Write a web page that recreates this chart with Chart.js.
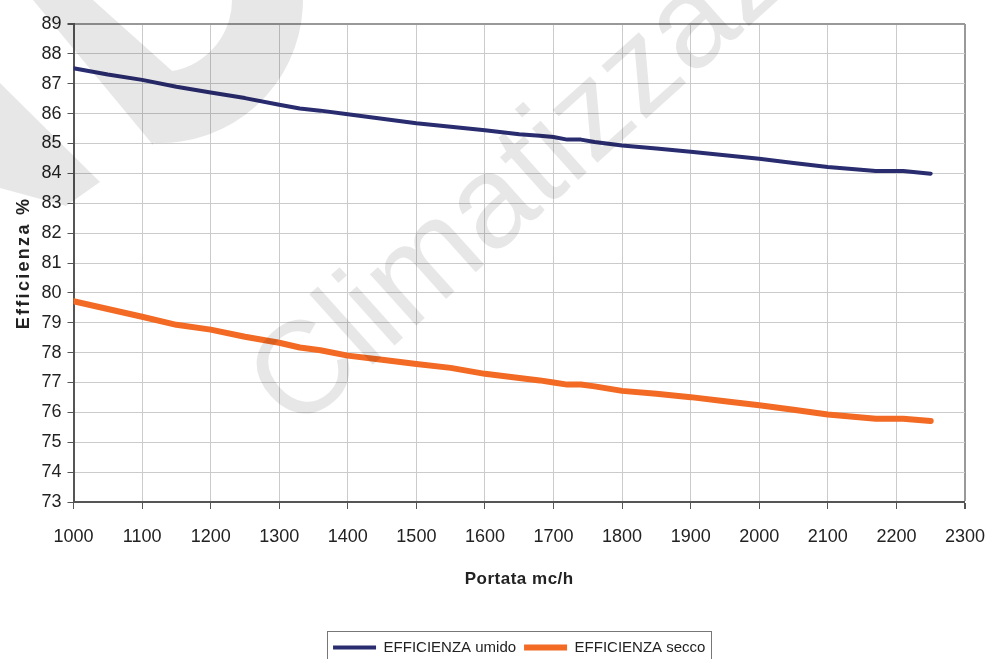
<!DOCTYPE html>
<html lang="it">
<head>
    <meta charset="UTF-8">
    <meta name="viewport" content="width=device-width, initial-scale=1.0">
    <script src="https://cdn.jsdelivr.net/npm/chart.js"></script>
    <title>Efficienza / Portata</title>
    <style>
      html, body { margin: 0; padding: 0; background: #fff; }
    </style>
</head>
<body>
    <canvas id="myChart" width="985" height="659"></canvas>

    <script>
      // values
      const portata = [1000, 1050, 1100, 1150, 1200, 1250, 1300, 1330, 1360, 1400,
                       1450, 1500, 1550, 1600, 1650, 1680, 1700, 1720, 1740, 1760,
                       1800, 1850, 1900, 1950, 2000, 2050, 2100, 2170, 2210, 2250];
      const effUmido = [87.52, 87.31, 87.13, 86.90, 86.71, 86.52, 86.30, 86.17, 86.10, 85.98,
                        85.83, 85.68, 85.56, 85.44, 85.31, 85.26, 85.22, 85.13, 85.13, 85.05,
                        84.93, 84.83, 84.72, 84.61, 84.49, 84.35, 84.21, 84.08, 84.08, 83.99];
      const effSecco = [79.72, 79.46, 79.20, 78.93, 78.77, 78.53, 78.33, 78.17, 78.08, 77.90,
                        77.76, 77.62, 77.49, 77.29, 77.15, 77.07, 77.00, 76.93, 76.93, 76.87,
                        76.72, 76.62, 76.51, 76.37, 76.24, 76.09, 75.93, 75.79, 75.79, 75.71];
      const seriesNames = ['EFFICIENZA umido', 'EFFICIENZA secco'];
      const xAxis = { min: 1000, max: 2300, step: 100 };
      const yAxis = { min: 73, max: 89, step: 1 };

      const FONT = "'Liberation Sans', Arial, sans-serif";
      const ctx = document.getElementById('myChart');

      // letter-spaced axis titles
      const spacedTitles = {
        id: 'spacedTitles',
        beforeDraw(chart) {
          [['x', '0.5px'], ['y', '2.3px']].forEach(([id, sp]) => {
            const s = chart.scales[id];
            if (s._spaced) return;
            const orig = s.drawTitle;
            s.drawTitle = function () {
              this.ctx.save();
              this.ctx.letterSpacing = sp;
              orig.call(this);
              this.ctx.restore();
            };
            s._spaced = true;
          });
        }
      };

      // center the legend under the plot and frame it
      const legendBox = {
        id: 'legendBox',
        afterLayout(chart) {
          const lg = chart.legend, ca = chart.chartArea;
          const shift = (ca.left + ca.right) / 2 - (lg.left + lg.right) / 2;
          lg.left += shift;
          lg.right += shift;
        },
        afterDraw(chart) {
          const boxes = chart.legend.legendHitBoxes;
          if (!boxes || !boxes.length) return;
          const first = boxes[0], last = boxes[boxes.length - 1];
          const c = chart.ctx;
          c.save();
          c.strokeStyle = '#777';
          c.lineWidth = 1;
          c.strokeRect(Math.round(first.left - 6) + 0.5, Math.round(first.top - 9) + 0.5,
                       Math.round(last.left + last.width - first.left + 12), 60);
          c.restore();
        }
      };

      // faint watermark over the chart
      const watermark = {
        id: 'watermark',
        afterDraw(chart) {
          const c = chart.ctx;
          c.save();
          c.fillStyle = 'rgba(0,0,0,0.095)';
          // logo bands
          c.beginPath();
          c.moveTo(33, 0);
          c.lineTo(153, 145);
          c.arc(160, 0, 143, 1.62, -0.09, true);
          c.arc(160, 0, 72, -0.09, 1.4, false);
          c.lineTo(93, 0);
          c.closePath();
          c.fill();
          c.beginPath();
          c.moveTo(0, 83);
          c.lineTo(100, 182);
          c.lineTo(66, 206);
          c.lineTo(0, 188);
          c.closePath();
          c.fill();
          // text
          c.translate(296, 434);
          c.rotate(-42 * Math.PI / 180);
          c.font = "131px " + FONT;
          c.textAlign = 'left';
          c.textBaseline = 'alphabetic';
          c.fillText('Climatizzazione', 0, 0);
          c.restore();
        }
      };

      new Chart(ctx, {
        type: 'line',
        data: {
          datasets: [{
            label: seriesNames[0],
            data: portata.map((x, i) => ({ x: x, y: effUmido[i] })),
            borderColor: '#2a2c70',
            backgroundColor: '#2a2c70',
            borderWidth: 4,
            pointRadius: 0,
            tension: 0,
            borderCapStyle: 'round',
            borderJoinStyle: 'round'
          }, {
            label: seriesNames[1],
            data: portata.map((x, i) => ({ x: x, y: effSecco[i] })),
            borderColor: '#f26a24',
            backgroundColor: '#f26a24',
            borderWidth: 6,
            pointRadius: 0,
            tension: 0,
            borderCapStyle: 'round',
            borderJoinStyle: 'round'
          }]
        },
        options: {
          responsive: false,
          animation: false,
          events: [],
          layout: { padding: { top: 24, right: 0, bottom: -6, left: 0 } },
          plugins: {
            tooltip: { enabled: false },
            legend: {
              position: 'bottom',
              labels: {
                usePointStyle: true,
                pointStyle: 'line',
                pointStyleWidth: 43,
                padding: 8,
                color: '#222',
                font: { family: FONT, size: 15 }
              }
            }
          },
          scales: {
            x: {
              type: 'linear',
              min: xAxis.min,
              max: xAxis.max,
              afterFit(scale) { scale.height = 130; },
              ticks: {
                stepSize: xAxis.step,
                maxRotation: 0,
                autoSkip: false,
                padding: 0,
                color: '#222',
                font: { family: FONT, size: 18, lineHeight: 3.1 },
                callback: v => String(v)
              },
              grid: {
                color: c => c.tick && c.tick.value === xAxis.max ? '#999' : '#cbcbcb',
                lineWidth: c => c.tick && c.tick.value === xAxis.max ? 2 : 1,
                tickColor: '#555',
                tickLength: 7
              },
              border: { color: '#555', width: 2 },
              title: {
                display: true,
                text: 'Portata mc/h',
                color: '#222',
                font: { family: FONT, size: 17, weight: 'bold' },
                padding: { top: 0, bottom: 42 }
              }
            },
            y: {
              min: yAxis.min,
              max: yAxis.max,
              afterFit(scale) { scale.width = 73.5; },
              ticks: {
                stepSize: yAxis.step,
                padding: 6,
                color: '#222',
                font: { family: FONT, size: 18 }
              },
              grid: {
                color: c => c.tick && c.tick.value === yAxis.max ? '#999' : '#cbcbcb',
                lineWidth: c => c.tick && c.tick.value === yAxis.max ? 2 : 1,
                tickColor: '#555',
                tickLength: 6
              },
              border: { color: '#555', width: 2 },
              title: {
                display: true,
                text: 'Efficienza %',
                color: '#222',
                font: { family: FONT, size: 18, weight: 'bold' },
                padding: { top: 13, bottom: 0 }
              }
            }
          }
        },
        plugins: [spacedTitles, legendBox, watermark]
      });
    </script>
</body>
</html>
